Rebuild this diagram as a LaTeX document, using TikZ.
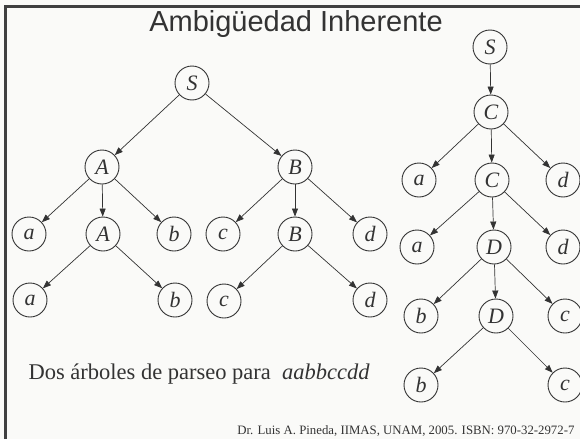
\documentclass[tikz,border=0pt]{standalone}
\usepackage{fontspec}
\setmainfont{Liberation Serif}
\newfontfamily\titlefont{Liberation Sans}
\usepackage{tikz}
\usetikzlibrary{arrows.meta}
\definecolor{linecolor}{RGB}{51,51,51}
\definecolor{framecolor}{RGB}{64,64,64}
\definecolor{pagecolor}{RGB}{250,250,248}

\begin{document}
\begin{tikzpicture}[
    x=1pt, y=-1pt,
    sym/.style={draw=linecolor, line width=0.9pt, circle, minimum size=34pt, inner sep=0pt, font=\fontsize{22}{22}\selectfont\itshape, text=linecolor},
    edge/.style={-{Triangle[length=8pt,width=6pt]}, draw=linecolor, line width=0.7pt}
]
    \useasboundingbox (0,0) rectangle (580,439);
    \fill[pagecolor] (0,0) rectangle (580,439);
    \draw[framecolor, line width=3pt] (5,439) -- (5,6) -- (580,6);

    % Title
    \node[font=\titlefont\fontsize{29}{29}\selectfont, text=linecolor] (title) at (296,24) {Ambigüedad Inherente};

    % Left tree
    \node[sym] (s1) at (192,83) {S};
    \node[sym] (a1) at (102,167) {A};
    \node[sym] (b1) at (295,167) {B};
    \node[sym] (ta1) at (29,234) {a};
    \node[sym] (a2) at (103,234) {A};
    \node[sym] (tb1) at (174,234) {b};
    \node[sym] (tc1) at (223,234) {c};
    \node[sym] (b2) at (295,234) {B};
    \node[sym] (td1) at (370,234) {d};
    \node[sym] (ta2) at (30,300) {a};
    \node[sym] (tb2) at (175,300) {b};
    \node[sym] (tc2) at (224,301) {c};
    \node[sym] (td2) at (370,300) {d};

    \draw[edge] (s1) -- (a1);
    \draw[edge] (s1) -- (b1);
    \draw[edge] (a1) -- (ta1);
    \draw[edge] (a1) -- (a2);
    \draw[edge] (a1) -- (tb1);
    \draw[edge] (a2) -- (ta2);
    \draw[edge] (a2) -- (tb2);
    \draw[edge] (b1) -- (tc1);
    \draw[edge] (b1) -- (b2);
    \draw[edge] (b1) -- (td1);
    \draw[edge] (b2) -- (tc2);
    \draw[edge] (b2) -- (td2);

    % Right tree
    \node[sym] (s2) at (490,47) {S};
    \node[sym] (c1) at (491,112) {C};
    \node[sym] (ta3) at (419,180) {a};
    \node[sym] (c2) at (492,180) {C};
    \node[sym] (td3) at (563,180) {d};
    \node[sym] (ta4) at (417,247) {a};
    \node[sym] (d1) at (494,247) {D};
    \node[sym] (td4) at (563,247) {d};
    \node[sym] (tb3) at (421,316) {b};
    \node[sym] (d2) at (496,316) {D};
    \node[sym] (tc3) at (565,316) {c};
    \node[sym] (tb4) at (421,385) {b};
    \node[sym] (tc4) at (565,385) {c};

    \draw[edge] (s2) -- (c1);
    \draw[edge] (c1) -- (ta3);
    \draw[edge] (c1) -- (c2);
    \draw[edge] (c1) -- (td3);
    \draw[edge] (c2) -- (ta4);
    \draw[edge] (c2) -- (d1);
    \draw[edge] (c2) -- (td4);
    \draw[edge] (d1) -- (tb3);
    \draw[edge] (d1) -- (d2);
    \draw[edge] (d1) -- (tc3);
    \draw[edge] (d2) -- (tb4);
    \draw[edge] (d2) -- (tc4);

    % Captions
    \node[anchor=west, font=\fontsize{22.5}{22.5}\selectfont, text=linecolor] (caption) at (25,374) {Dos árboles de parseo para \ \textit{aabbccdd}};
    \node[anchor=east, font=\fontsize{12.8}{12.8}\selectfont, text=linecolor] (footer) at (578,431) {Dr. Luis A. Pineda, IIMAS, UNAM, 2005. ISBN: 970-32-2972-7};
\end{tikzpicture}
\end{document}
